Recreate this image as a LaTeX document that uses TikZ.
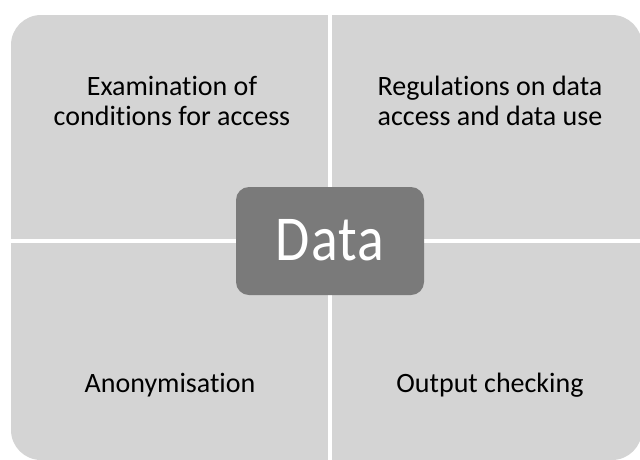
\documentclass[tikz,border=0pt]{standalone}
\usepackage{fontspec}
\setmainfont{Carlito}[Ligatures=NoCommon]
\newfontfamily\hubfont{Carlito}[FakeStretch=0.87, LetterSpace=2]
\usepackage{tikz}
\usetikzlibrary{
    positioning,
    calc
}
\definecolor{PanelGray}{RGB}{212,212,212}
\definecolor{HubGray}{RGB}{122,122,122}
\tikzset{
  panel/.style    = {fill=PanelGray, rounded corners=30pt, inner sep=0pt,
                     minimum width=631pt, minimum height=445pt},
  hub/.style      = {fill=HubGray, rounded corners=13pt, text=white,
                     minimum width=188pt, minimum height=108pt,
                     font=\hubfont\fontsize{64}{70}\selectfont},
  quadtext/.style = {align=center, inner sep=0pt,
                     font=\fontsize{28}{30}\selectfont},
  gap/.style      = {draw=white, line width=4pt}
}

\begin{document}
\begin{tikzpicture}[x=1pt,y=-1pt]
\useasboundingbox (0,0) rectangle (640,459);
\clip (0,0) rectangle (640,459);
\node[panel] (frame) at (326.5,237.5) {};
\coordinate (mid) at (330,241);
% white cross splitting the panel in four
\draw[gap] (mid |- frame.north) -- (mid |- frame.south);
\draw[gap] (mid -| frame.west) -- (mid -| frame.east);
\node[hub] (data) at (mid) {\raisebox{2pt}{Data}};
\node[quadtext] (access) at (172,101) {Examination of\\conditions for access};
\node[quadtext] (rules) at (490,101) {Regulations on data\\access and data use};
\node[quadtext, anchor=base] (anon) at (170,392) {Anonymisation};
\node[quadtext, anchor=base] (output) at (490,392) {Output checking};
\end{tikzpicture}
\end{document}
